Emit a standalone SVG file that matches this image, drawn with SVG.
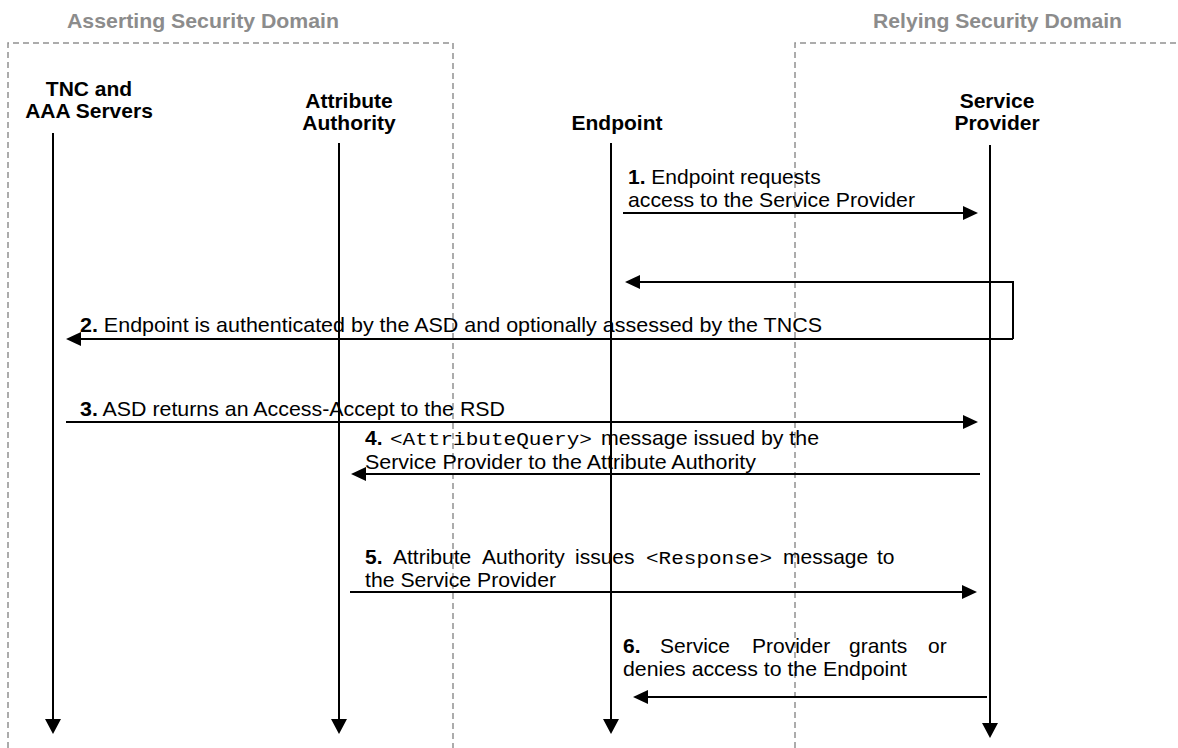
<svg xmlns="http://www.w3.org/2000/svg" width="1178" height="748" viewBox="0 0 1178 748">
<defs>
<style>
.t{font-family:"Liberation Sans",Arial,sans-serif;font-size:21px;fill:#000}
.h{font-weight:bold;text-anchor:middle}
.dom{font-family:"Liberation Sans",Arial,sans-serif;font-size:21px;font-weight:bold;fill:#8c8c8c}
.b{font-weight:bold}
.m{font-family:"Liberation Mono","Courier New",monospace;font-size:19px}
.box{fill:none;stroke:#919191;stroke-width:1.5;stroke-dasharray:6 4}
.life{stroke:#000;stroke-width:2;fill:none;marker-end:url(#lh)}
.msg{stroke:#000;stroke-width:2;fill:none;marker-end:url(#ah)}
</style>
<marker id="ah" markerUnits="userSpaceOnUse" markerWidth="16" markerHeight="16" refX="0" refY="7" orient="auto"><path d="M0,0 L15,7 L0,14 z" fill="#000"/></marker>
<marker id="lh" markerUnits="userSpaceOnUse" markerWidth="16" markerHeight="17" refX="0" refY="8" orient="auto"><path d="M0,0 L15,8 L0,16 z" fill="#000"/></marker>
</defs>
<rect width="1178" height="748" fill="#fff"/>

<g id="asserting-domain">
<path class="box" d="M8,748 V43 H453 V748"/>
<text class="dom" x="67" y="28" textLength="272" lengthAdjust="spacingAndGlyphs">Asserting Security Domain</text>
</g>
<g id="relying-domain">
<path class="box" d="M795,748 V43 H1178"/>
<text class="dom" x="873" y="28" textLength="249" lengthAdjust="spacingAndGlyphs">Relying Security Domain</text>
</g>

<g id="tnc-aaa">
<text class="t h" x="89" y="96">TNC and</text>
<text class="t h" x="89" y="118">AAA Servers</text>
<path class="life" d="M53,133 V719"/>
</g>
<g id="attribute-authority">
<text class="t h" x="349" y="108">Attribute</text>
<text class="t h" x="349" y="130">Authority</text>
<path class="life" d="M339,143 V719"/>
</g>
<g id="endpoint">
<text class="t h" x="617" y="130">Endpoint</text>
<path class="life" d="M611,143 V719"/>
</g>
<g id="service-provider">
<text class="t h" x="997" y="108">Service</text>
<text class="t h" x="997" y="130">Provider</text>
<path class="life" d="M990,145 V723"/>
</g>

<g id="connectors">
<path class="msg" d="M623,213 H963"/>
<path class="msg" d="M1013,339 V282 H640"/>
<path class="msg" d="M1013,339 H81"/>
<path class="msg" d="M66,422 H963"/>
<path class="msg" d="M980,474 H366"/>
<path class="msg" d="M350,592 H962"/>
<path class="msg" d="M987,697 H648"/>
</g>

<g id="labels">
<text class="t" x="628" y="184"><tspan class="b">1.</tspan> Endpoint requests</text>
<text class="t" x="628" y="207" textLength="287" lengthAdjust="spacingAndGlyphs">access to the Service Provider</text>

<text class="t" x="80" y="332" textLength="742" lengthAdjust="spacingAndGlyphs"><tspan class="b">2.</tspan> Endpoint is authenticated by the ASD and optionally assessed by the TNCS</text>

<text class="t" x="80" y="416" textLength="425" lengthAdjust="spacingAndGlyphs"><tspan class="b">3.</tspan> ASD returns an Access-Accept to the RSD</text>

<text class="t" y="445"><tspan class="b" x="365">4.</tspan><tspan class="m" x="390" textLength="202" lengthAdjust="spacingAndGlyphs">&lt;AttributeQuery&gt;</tspan><tspan x="601" textLength="218" lengthAdjust="spacingAndGlyphs">message issued by the</tspan></text>
<text class="t" x="365" y="469" textLength="391" lengthAdjust="spacingAndGlyphs">Service Provider to the Attribute Authority</text>

<text class="t" y="564"><tspan class="b" x="365">5.</tspan><tspan x="393">Attribute</tspan><tspan x="482">Authority</tspan><tspan x="575">issues</tspan><tspan class="m" x="646" textLength="126" lengthAdjust="spacingAndGlyphs">&lt;Response&gt;</tspan><tspan x="783">message</tspan><tspan x="877">to</tspan></text>
<text class="t" x="365" y="587" textLength="191" lengthAdjust="spacingAndGlyphs">the Service Provider</text>

<text class="t" y="653"><tspan class="b" x="623">6.</tspan><tspan x="660">Service</tspan><tspan x="752">Provider</tspan><tspan x="849">grants</tspan><tspan x="928">or</tspan></text>
<text class="t" x="623" y="676" textLength="284" lengthAdjust="spacingAndGlyphs">denies access to the Endpoint</text>
</g>
</svg>
